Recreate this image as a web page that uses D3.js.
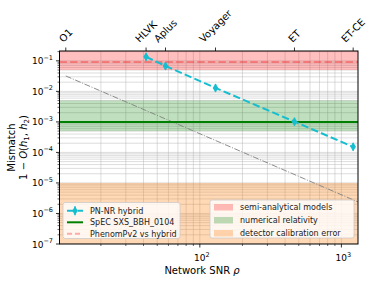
<!DOCTYPE html>
<html>
<head>
<meta charset="utf-8">
<script src="https://cdn.jsdelivr.net/npm/d3@7"></script>
<style>
  body { margin: 0; background: #fff; }
  svg { font-family: "DejaVu Sans", sans-serif; }
</style>
</head>
<body>
<svg width="374" height="285"></svg>
<script>
// detectors on the top axis
const detectors = ["O1", "HLVK", "Aplus", "Voyager", "ET", "ET-CE"];
const detectorSNR = [11.3, 41.7, 57.2, 129, 466, 1211];

// PN-NR hybrid mismatch, with error bar ends
const hybridSNR = [41.7, 57.2, 129, 466, 1211];
const hybridMismatch = [0.135, 0.068, 0.013, 0.00102, 0.000152];
const hybridLow = [0.10, 0.05, 0.0097, 0.00076, 0.000113];
const hybridHigh = [0.18, 0.09, 0.0175, 0.00137, 0.000205];

// horizontal reference lines
const nrMismatch = 1e-3;
const phenomMismatch = 0.092;

// grey dash-dot 1/rho^2 line (two end points)
const scalingSNR = [11.3, 1310];
const scalingMismatch = [0.032, 2.39e-6];

// shaded bands
const bandNames = ["semi-analytical models", "numerical relativity", "detector calibration error"];
const bandLow = [0.05, 5e-4, 1e-9];
const bandHigh = [1, 5e-3, 1e-5];
const bandColors = ["red", "green", "#ff7f0e"];
const bandAlpha = [0.25, 0.25, 0.3];

const yTickExp = [-7, -6, -5, -4, -3, -2, -1];
const xTickExp = [2, 3];

const margin = { top: 51, right: 16, bottom: 41, left: 59.5 };
const width = 374 - margin.left - margin.right;
const height = 285 - margin.top - margin.bottom;

const svg = d3.select("svg");
const g = svg.append("g").attr("transform", `translate(${margin.left},${margin.top})`);

const x = d3.scaleLog().domain([10.2, 1310]).range([0, width]);
const y = d3.scaleLog().domain([1e-7, 0.21]).range([height, 0]);

g.append("clipPath").attr("id", "clip")
  .append("rect").attr("width", width).attr("height", height);

const plot = g.append("g").attr("clip-path", "url(#clip)");

// grid (major + minor)
plot.selectAll(".gx").data(x.ticks()).enter().append("line")
  .attr("x1", d => x(d)).attr("x2", d => x(d))
  .attr("y1", 0).attr("y2", height)
  .attr("stroke", "#b0b0b0").attr("stroke-opacity", 0.55).attr("stroke-width", 0.8);
plot.selectAll(".gy").data(y.ticks()).enter().append("line")
  .attr("y1", d => y(d)).attr("y2", d => y(d))
  .attr("x1", 0).attr("x2", width)
  .attr("stroke", "#b0b0b0").attr("stroke-opacity", 0.55).attr("stroke-width", 0.8);

// bands
plot.selectAll(".band").data(bandNames).enter().append("rect")
  .attr("x", 0).attr("width", width)
  .attr("y", (d, i) => y(bandHigh[i]))
  .attr("height", (d, i) => y(bandLow[i]) - y(bandHigh[i]))
  .attr("fill", (d, i) => bandColors[i])
  .attr("fill-opacity", (d, i) => bandAlpha[i]);

// dash-dot scaling line
plot.append("path")
  .datum(scalingSNR.map((s, i) => [s, scalingMismatch[i]]))
  .attr("d", d3.line().x(d => x(d[0])).y(d => y(d[1])))
  .attr("fill", "none").attr("stroke", "#808080").attr("stroke-width", 0.9)
  .attr("stroke-dasharray", "6,1.6,1,1.6");

// NR line
plot.append("line")
  .attr("x1", 0).attr("x2", width)
  .attr("y1", y(nrMismatch)).attr("y2", y(nrMismatch))
  .attr("stroke", "green").attr("stroke-width", 2);

// phenom dashed line
plot.append("line")
  .attr("x1", 0).attr("x2", width)
  .attr("y1", y(phenomMismatch)).attr("y2", y(phenomMismatch))
  .attr("stroke", "red").attr("stroke-opacity", 0.3).attr("stroke-width", 2)
  .attr("stroke-dasharray", "7.4,3.2");

// hybrid line + error bars + diamonds
const cyan = "#17becf";
plot.append("path")
  .datum(hybridSNR.map((s, i) => [s, hybridMismatch[i]]))
  .attr("d", d3.line().x(d => x(d[0])).y(d => y(d[1])))
  .attr("fill", "none").attr("stroke", cyan).attr("stroke-width", 2)
  .attr("stroke-dasharray", "7.4,3.2");
plot.selectAll(".err").data(hybridSNR).enter().append("line")
  .attr("x1", d => x(d)).attr("x2", d => x(d))
  .attr("y1", (d, i) => y(hybridLow[i])).attr("y2", (d, i) => y(hybridHigh[i]))
  .attr("stroke", cyan).attr("stroke-width", 1.5);
const diamond = "M0,-4.5L2.8,0L0,4.5L-2.8,0Z";
plot.selectAll(".mk").data(hybridSNR).enter().append("path")
  .attr("d", diamond)
  .attr("transform", (d, i) => `translate(${x(d)},${y(hybridMismatch[i])})`)
  .attr("fill", cyan);

// frame
g.append("rect").attr("width", width).attr("height", height)
  .attr("fill", "none").attr("stroke", "#000").attr("stroke-width", 1);

// left axis ticks
const yMinor = y.ticks().filter(d => !yTickExp.some(e => Math.abs(Math.log10(d) - e) < 1e-6));
g.selectAll(".ymn").data(yMinor).enter().append("line")
  .attr("x1", 0).attr("x2", -2).attr("y1", d => y(d)).attr("y2", d => y(d))
  .attr("stroke", "#000").attr("stroke-width", 0.6);
g.selectAll(".ymj").data(yTickExp).enter().append("line")
  .attr("x1", 0).attr("x2", -3.5).attr("y1", d => y(Math.pow(10, d))).attr("y2", d => y(Math.pow(10, d)))
  .attr("stroke", "#000").attr("stroke-width", 0.8);
const ylab = g.selectAll(".ylab").data(yTickExp).enter().append("text")
  .attr("x", -6.5).attr("y", d => y(Math.pow(10, d)) + 3.5)
  .attr("text-anchor", "end").attr("font-size", 9).attr("fill", "#000");
ylab.append("tspan").text("10");
ylab.append("tspan").attr("dy", -4.5).attr("font-size", 6.5).text(d => "\u2212" + (-d));

// bottom axis ticks
const xMinor = x.ticks().filter(d => !xTickExp.some(e => Math.abs(Math.log10(d) - e) < 1e-6));
g.selectAll(".xmn").data(xMinor).enter().append("line")
  .attr("y1", height).attr("y2", height + 2).attr("x1", d => x(d)).attr("x2", d => x(d))
  .attr("stroke", "#000").attr("stroke-width", 0.6);
g.selectAll(".xmj").data(xTickExp).enter().append("line")
  .attr("y1", height).attr("y2", height + 3.5).attr("x1", d => x(Math.pow(10, d))).attr("x2", d => x(Math.pow(10, d)))
  .attr("stroke", "#000").attr("stroke-width", 0.8);
const xlab = g.selectAll(".xlab").data(xTickExp).enter().append("text")
  .attr("x", d => x(Math.pow(10, d)) + 2).attr("y", height + 17)
  .attr("text-anchor", "middle").attr("font-size", 9).attr("fill", "#000");
xlab.append("tspan").text("10");
xlab.append("tspan").attr("dy", -4.5).attr("font-size", 6.5).text(d => d);

// top axis: detectors
g.selectAll(".tt").data(detectorSNR).enter().append("line")
  .attr("y1", 0).attr("y2", -3.5).attr("x1", d => x(d)).attr("x2", d => x(d))
  .attr("stroke", "#000").attr("stroke-width", 0.8);
g.selectAll(".tl").data(detectors).enter().append("text")
  .attr("font-size", 10).attr("fill", "#000")
  .attr("text-anchor", "middle").attr("dominant-baseline", "central")
  .text(d => d)
  .each(function(d, i) {
    const w = this.getComputedTextLength();
    const h = 10;
    const half = (w + h) / Math.SQRT2 / 2;
    const cx = x(detectorSNR[i]);
    const cy = -7 - half;
    d3.select(this).attr("x", cx).attr("y", cy)
      .attr("transform", `rotate(-45,${cx},${cy})`);
  });

// axis labels
svg.append("text").attr("x", 202).attr("y", 274).attr("text-anchor", "middle")
  .attr("font-size", 10).attr("fill", "#000")
  .html('Network SNR <tspan font-style="italic">ρ</tspan>');
const yc = margin.top + height / 2;
svg.append("text").attr("transform", `translate(15,${yc}) rotate(-90)`)
  .attr("text-anchor", "middle").attr("font-size", 10).attr("fill", "#000")
  .text("Mismatch");
const yl2 = svg.append("text").attr("transform", `translate(26.5,${yc}) rotate(-90)`)
  .attr("text-anchor", "middle").attr("font-size", 10).attr("fill", "#000");
yl2.append("tspan").text("1 \u2212 ");
yl2.append("tspan").attr("font-style", "italic").text("O");
yl2.append("tspan").text("(");
yl2.append("tspan").attr("font-style", "italic").text("h");
yl2.append("tspan").attr("font-size", 7).attr("dy", 2).text("1");
yl2.append("tspan").attr("dy", -2).text(", ");
yl2.append("tspan").attr("font-style", "italic").text("h");
yl2.append("tspan").attr("font-size", 7).attr("dy", 2).text("2");
yl2.append("tspan").attr("dy", -2).text(")");

// left legend (lines)
const lineNames = ["PN-NR hybrid", "SpEC SXS_BBH_0104", "PhenomPv2 vs hybrid"];
const leg1 = svg.append("g").attr("transform", "translate(63,202.5)");
leg1.append("rect").attr("width", 117).attr("height", 36).attr("rx", 2)
  .attr("fill", "#fff").attr("fill-opacity", 0.8).attr("stroke", "#ccc").attr("stroke-width", 0.8);
lineNames.forEach((n, i) => {
  const ly = 8.3 + i * 11.5;
  const hl = leg1.append("line").attr("x1", 4).attr("x2", 20).attr("y1", ly).attr("y2", ly);
  if (i === 0) {
    hl.attr("stroke", cyan).attr("stroke-width", 2).attr("stroke-dasharray", "7.4,3.2");
    leg1.append("line").attr("x1", 12).attr("x2", 12).attr("y1", ly - 4.5).attr("y2", ly + 4.5)
      .attr("stroke", cyan).attr("stroke-width", 1.5);
    leg1.append("path").attr("d", diamond).attr("transform", `translate(12,${ly})`).attr("fill", cyan);
  } else if (i === 1) {
    hl.attr("stroke", "green").attr("stroke-width", 2);
  } else {
    hl.attr("stroke", "red").attr("stroke-opacity", 0.3).attr("stroke-width", 2).attr("stroke-dasharray", "5,3");
  }
  leg1.append("text").attr("x", 27).attr("y", ly + 3).attr("font-size", 8).attr("fill", "#222").text(n);
});

// right legend (bands)
const leg2 = svg.append("g").attr("transform", "translate(210,200)");
leg2.append("rect").attr("width", 144).attr("height", 38).attr("rx", 2)
  .attr("fill", "#fff").attr("fill-opacity", 0.8).attr("stroke", "#ccc").attr("stroke-width", 0.8);
bandNames.forEach((n, i) => {
  const ly = 7 + i * 13;
  leg2.append("rect").attr("x", 4).attr("y", ly - 3).attr("width", 19).attr("height", 6.5)
    .attr("fill", bandColors[i]).attr("fill-opacity", bandAlpha[i]);
  leg2.append("text").attr("x", 30).attr("y", ly + 3).attr("font-size", 8).attr("fill", "#222").text(n);
});
</script>
</body>
</html>
